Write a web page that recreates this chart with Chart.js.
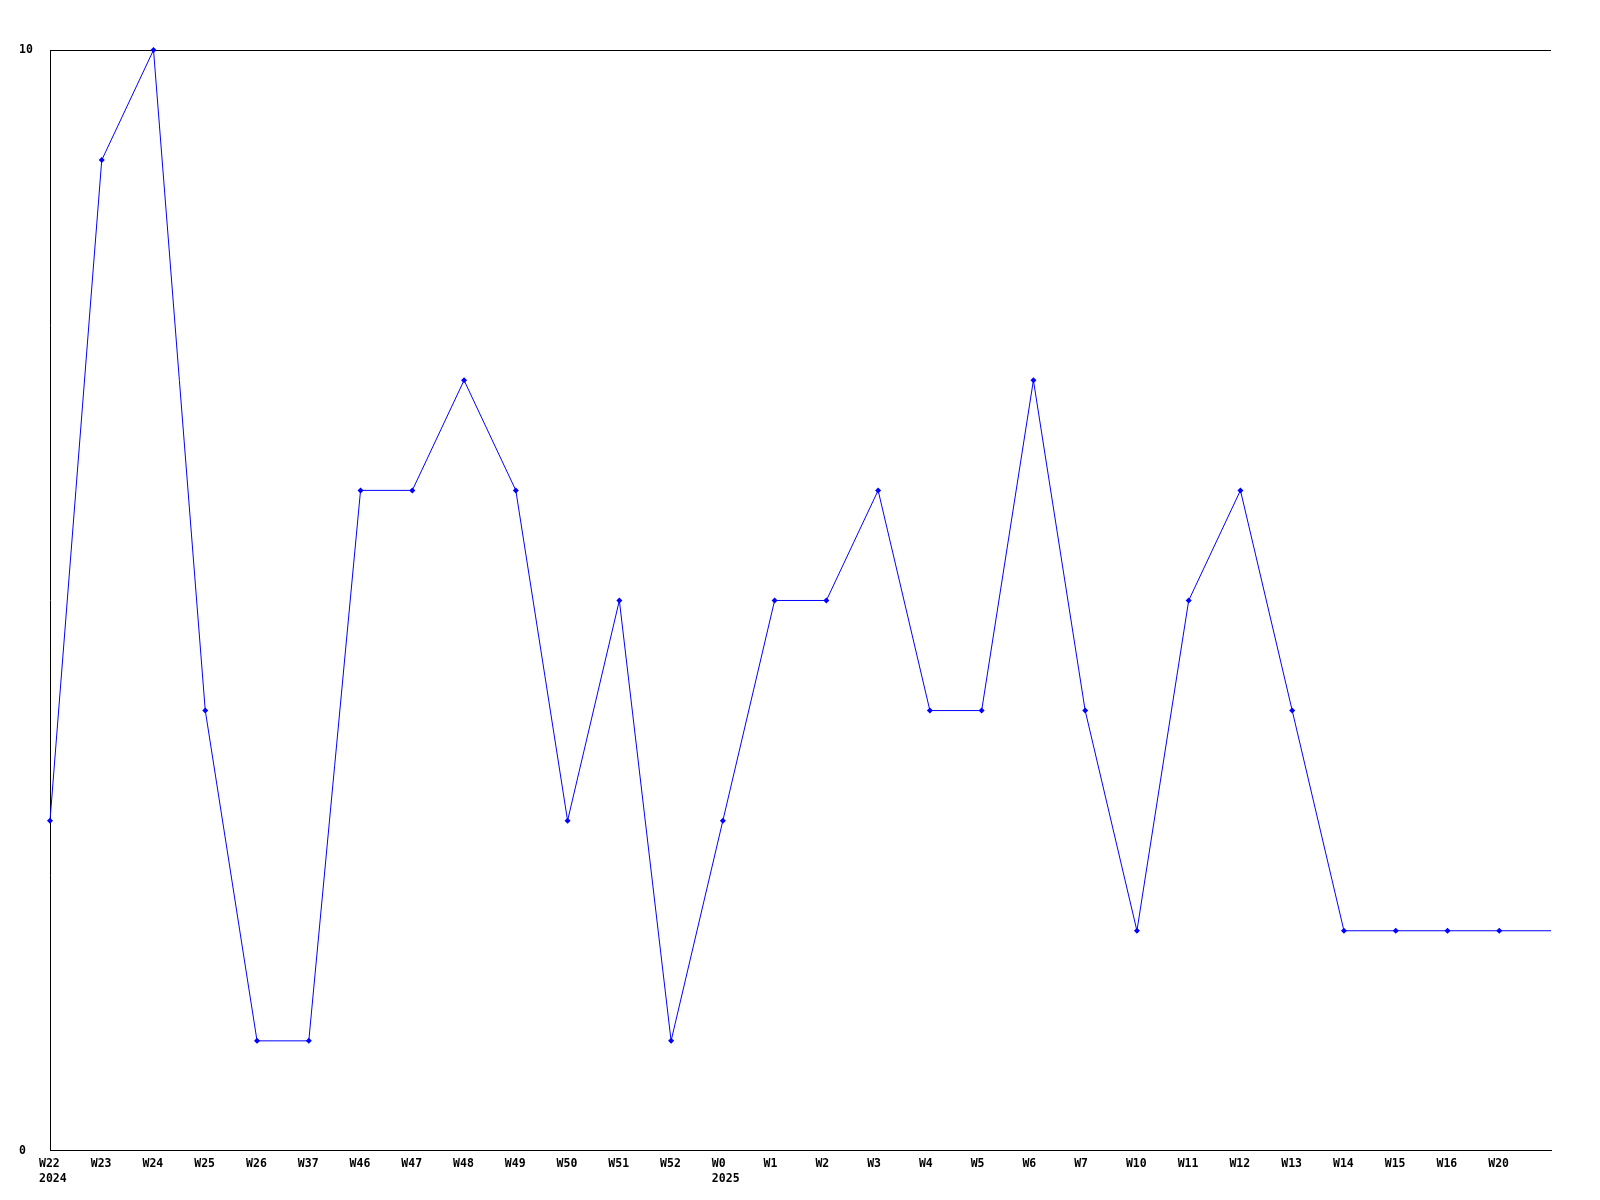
<!DOCTYPE html>
<html>
<head>
<meta charset="utf-8">
<script src="https://cdn.jsdelivr.net/npm/chart.js@4/dist/chart.umd.min.js"></script>
<style>
  html, body { margin: 0; padding: 0; background: #fff; }
  canvas { display: block; }
</style>
</head>
<body>
<canvas id="chart" width="1600" height="1200"></canvas>
<script>
// Week labels along the x axis (last point runs to the right edge, unlabelled)
const weeks = ['W22', 'W23', 'W24', 'W25', 'W26', 'W37', 'W46', 'W47', 'W48', 'W49',
  'W50', 'W51', 'W52', 'W0', 'W1', 'W2', 'W3', 'W4', 'W5', 'W6',
  'W7', 'W10', 'W11', 'W12', 'W13', 'W14', 'W15', 'W16', 'W20', ''];
// Year shown under the first week of each year
const years = ['2024', '', '', '', '', '', '', '', '', '',
  '', '', '', '2025', '', '', '', '', '', '',
  '', '', '', '', '', '', '', '', '', ''];
const values = [3, 9, 10, 4, 1, 1, 6, 6, 7, 6,
  3, 5, 1, 3, 5, 5, 6, 4, 4, 7,
  4, 2, 5, 6, 4, 2, 2, 2, 2, 2];
const yTicks = [0, 10];

const labels = weeks.map((w, i) => years[i] ? [w, years[i]] : w);
const font = { family: "'DejaVu Sans Mono', monospace", size: 11.5, weight: 'bold', lineHeight: 1.35 };

new Chart(document.getElementById('chart'), {
  type: 'line',
  data: {
    labels: labels,
    datasets: [{
      data: values,
      borderColor: '#0000ff',
      backgroundColor: '#0000ff',
      borderWidth: 1,
      tension: 0,
      pointStyle: 'rectRot',
      pointRadius: values.map((v, i) => weeks[i] ? 3 : 0),
      pointBorderWidth: 0,
      clip: false
    }]
  },
  options: {
    responsive: false,
    animation: false,
    layout: { padding: { left: 19, top: 50, right: 49, bottom: 8 } },
    plugins: { legend: { display: false }, tooltip: { enabled: false } },
    scales: {
      x: {
        offset: false,
        grid: { display: false, drawTicks: false },
        border: { display: true, color: '#000', width: 1 },
        ticks: {
          color: '#000',
          font: font,
          padding: 5,
          autoSkip: false,
          maxRotation: 0,
          align: 'start',
          labelOffset: -11
        }
      },
      y: {
        min: 0,
        max: 10,
        afterBuildTicks: scale => { scale.ticks = yTicks.map(v => ({ value: v })); },
        afterFit: scale => { scale.width = 31; },
        grid: { color: '#000', lineWidth: 1, drawTicks: false },
        border: { display: true, color: '#000', width: 1 },
        ticks: {
          color: '#000',
          font: font,
          crossAlign: 'far',
          padding: 0
        }
      }
    }
  }
});
</script>
</body>
</html>
